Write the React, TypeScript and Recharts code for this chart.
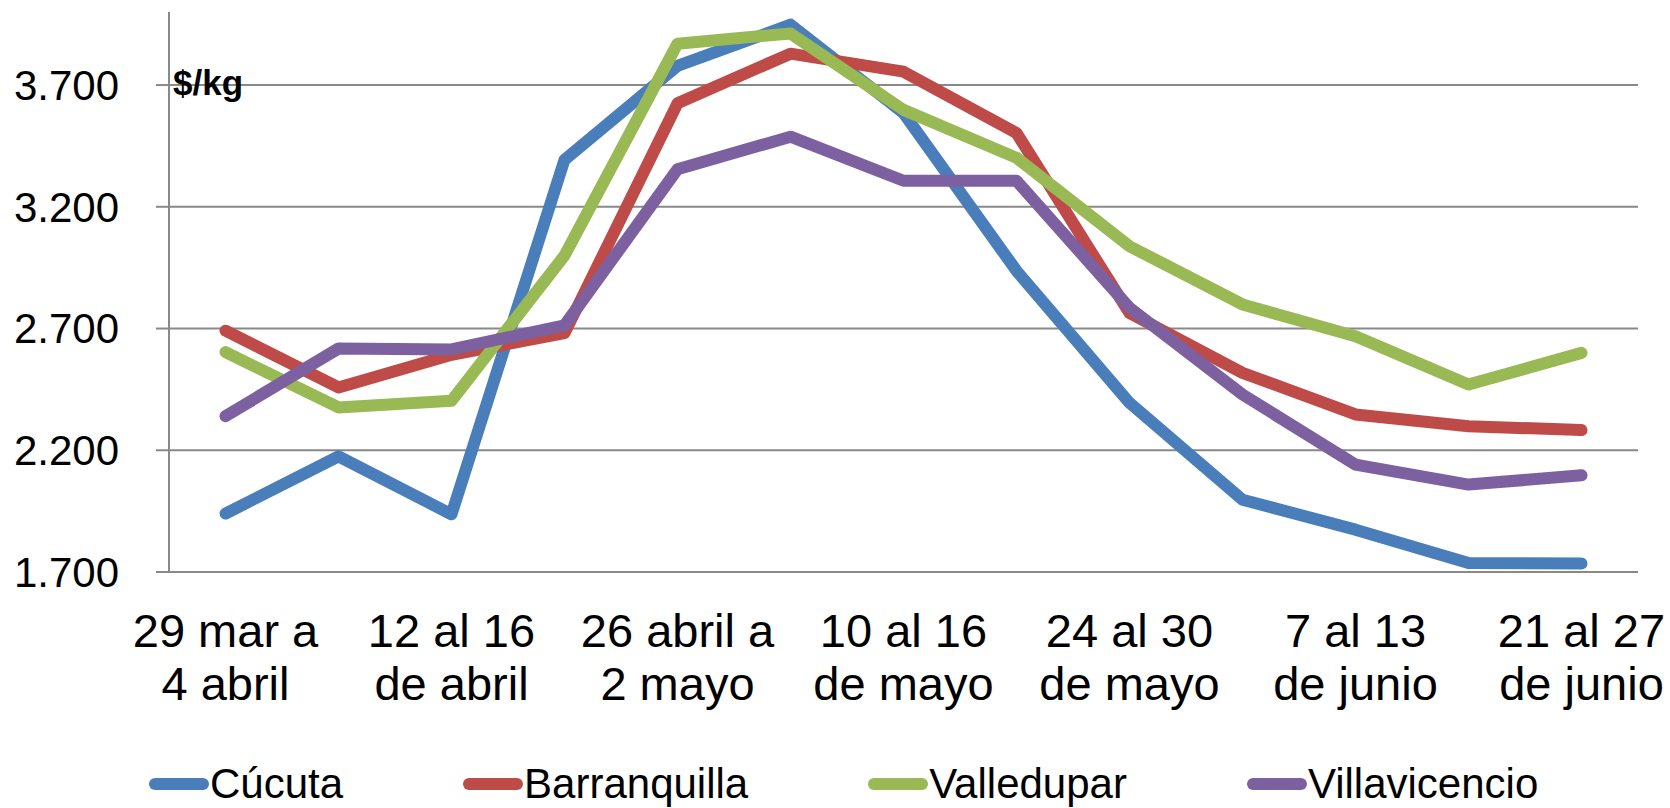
import { LineChart, Line, XAxis, YAxis, CartesianGrid, Legend } from 'recharts'

const FONT = '"Liberation Sans", Arial, sans-serif'

const weeks = [
  '29 mar a\n4 abril',
  '5 al 11\nde abril',
  '12 al 16\nde abril',
  '19 al 25\nde abril',
  '26 abril a\n2 mayo',
  '3 al 9\nde mayo',
  '10 al 16\nde mayo',
  '17 al 23\nde mayo',
  '24 al 30\nde mayo',
  '31 mayo a\n6 junio',
  '7 al 13\nde junio',
  '14 al 20\nde junio',
  '21 al 27\nde junio',
]

const cucuta = [1940, 2175, 1937, 3393, 3779, 3948, 3585, 2937, 2395, 1997, 1874, 1737, 1735]
const barranquilla = [2691, 2458, 2592, 2681, 3625, 3829, 3755, 3503, 2764, 2518, 2347, 2299, 2283]
const valledupar = [2603, 2376, 2403, 3000, 3870, 3912, 3598, 3401, 3038, 2799, 2668, 2470, 2600]
const villavicencio = [2340, 2618, 2614, 2713, 3354, 3488, 3307, 3307, 2785, 2429, 2141, 2059, 2097]

const yTicks = [1700, 2200, 2700, 3200, 3700]

const series = [
  { key: 'cucuta', name: 'Cúcuta', color: '#4A7EBB', values: cucuta },
  { key: 'barranquilla', name: 'Barranquilla', color: '#BE4B48', values: barranquilla },
  { key: 'valledupar', name: 'Valledupar', color: '#98B954', values: valledupar },
  { key: 'villavicencio', name: 'Villavicencio', color: '#7D60A0', values: villavicencio },
]

const data = weeks.map((week, i) => {
  const row: Record<string, string | number> = { week }
  series.forEach(s => { row[s.key] = s.values[i] })
  return row
})

const formatThousands = (v: number) => v.toLocaleString('de-DE')

function WeekTick({ x, y, payload }: any) {
  const lines = String(payload.value).split('\n')
  return (
    <text x={x} textAnchor="middle" fill="#000" fontSize={47} fontFamily={FONT}>
      <tspan x={x} y={y + 75}>{lines[0]}</tspan>
      <tspan x={x} y={y + 128}>{lines[1]}</tspan>
    </text>
  )
}

function LegendRow() {
  return (
    <div style={{ display: 'flex', alignItems: 'center', paddingLeft: 149, gap: 120, fontFamily: FONT, fontSize: 42, lineHeight: '40px', color: '#000' }}>
      {series.map(s => (
        <div key={s.key} style={{ display: 'flex', alignItems: 'center' }}>
          <svg width={60} height={14} style={{ marginRight: 1 }}>
            <line x1={6} y1={7} x2={54} y2={7} stroke={s.color} strokeWidth={12} strokeLinecap="round" />
          </svg>
          <span>{s.name}</span>
        </div>
      ))}
    </div>
  )
}

export default function App() {
  return (
    <div style={{ position: 'absolute', left: 0, top: 0, width: 1670, height: 808, background: '#fff', overflow: 'hidden' }}>
      <LineChart width={1670} height={808} data={data} margin={{ top: 12, right: 32, bottom: 0, left: 0 }}>
        <CartesianGrid vertical={false} syncWithTicks stroke="#898989" strokeWidth={2} />
        <XAxis
          dataKey="week"
          interval={1}
          padding={{ left: 56.5, right: 56.5 }}
          height={236}
          tickLine={false}
          tickSize={0}
          tickMargin={0}
          axisLine={{ stroke: '#898989', strokeWidth: 2 }}
          tick={<WeekTick />}
        />
        <YAxis
          width={169}
          domain={[1700, 4000]}
          ticks={yTicks}
          tickFormatter={formatThousands}
          tickSize={13}
          tickMargin={37}
          axisLine={{ stroke: '#898989', strokeWidth: 2 }}
          tickLine={{ stroke: '#898989', strokeWidth: 2 }}
          tick={{ fontSize: 42, fill: '#000', fontFamily: FONT }}
          allowDataOverflow
        />
        {series.map(s => (
          <Line
            key={s.key}
            dataKey={s.key}
            name={s.name}
            stroke={s.color}
            strokeWidth={12}
            strokeLinecap="round"
            strokeLinejoin="round"
            dot={false}
            activeDot={false}
            isAnimationActive={false}
          />
        ))}
        <Legend
          layout="vertical"
          align="center"
          verticalAlign="middle"
          wrapperStyle={{ top: 764, left: 0, width: 1670 }}
          content={<LegendRow />}
        />
      </LineChart>
      <div style={{ position: 'absolute', left: 173, top: 65, fontFamily: FONT, fontWeight: 'bold', fontSize: 35, lineHeight: '35px', color: '#000' }}>
        $/kg
      </div>
    </div>
  )
}
